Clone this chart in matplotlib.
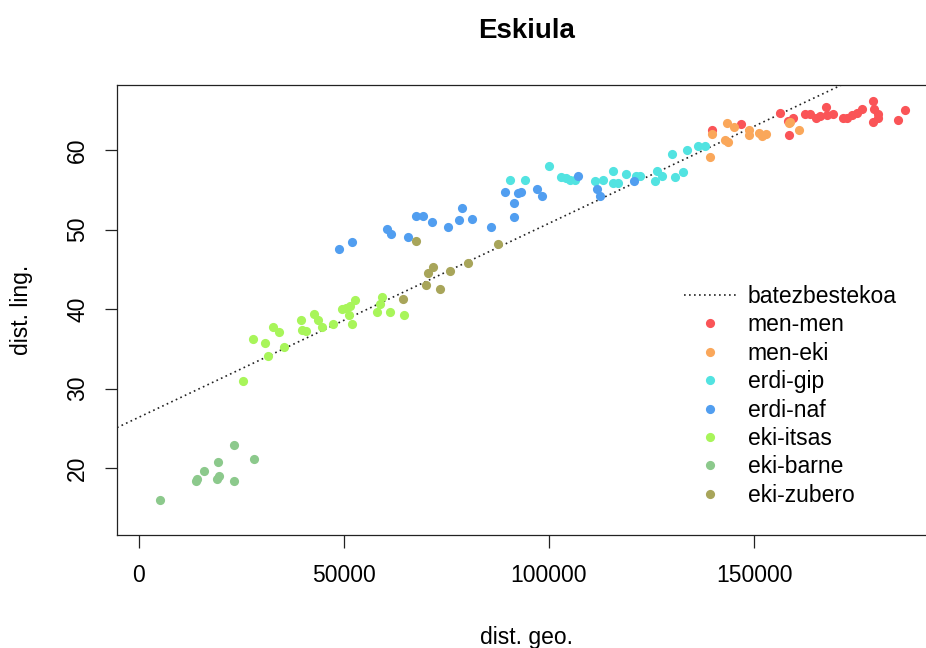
import matplotlib
matplotlib.use("Agg")
import matplotlib.pyplot as plt

plt.rcParams['font.family'] = ['Liberation Sans', 'DejaVu Sans']

# groups (legend order) and colours
groups = ['men-men', 'men-eki', 'erdi-gip', 'erdi-naf', 'eki-itsas', 'eki-barne', 'eki-zubero']
colors = ['#FA5457', '#FAA75A', '#52E3E1', '#519EF0', '#A8F55A', '#8CC98C', '#A8A55A']

# dist. geo. / dist. ling. per group
men_men_x = [139700, 146800, 156300, 158200, 159400, 158400, 162400, 163700, 165100, 166100,
             167600, 167700, 169200, 171600, 172600, 173800, 175000, 176300, 178900, 179300,
             180200, 180300, 178900, 185200, 186800]
men_men_y = [62.6, 63.3, 64.7, 63.7, 64.1, 61.9, 64.6, 64.6, 64.0, 64.3,
             65.4, 64.4, 64.6, 64.0, 64.1, 64.4, 64.7, 65.2, 66.2, 65.2,
             64.6, 64.0, 63.5, 63.8, 65.1]

men_eki_x = [139300, 139700, 142800, 143300, 143600, 145200, 148800, 148800, 151300, 151900,
             152900, 158400, 158800, 161000]
men_eki_y = [59.2, 62.0, 61.3, 63.4, 61.0, 62.9, 62.6, 61.9, 62.1, 61.8,
             62.0, 63.4, 63.6, 62.6]

erdi_gip_x = [90500, 94100, 100000, 102900, 104100, 105100, 106300, 111200, 113100, 115500,
              115700, 116900, 118900, 121200, 122200, 125900, 126300, 127500, 129900, 130700,
              132800, 133600, 136400, 138000]
erdi_gip_y = [56.2, 56.3, 58.0, 56.6, 56.5, 56.3, 56.3, 56.1, 56.3, 57.4,
              55.9, 55.9, 57.0, 56.8, 56.8, 56.1, 57.4, 56.8, 59.5, 56.6,
              57.2, 60.0, 60.5, 60.5]

erdi_naf_x = [48800, 52000, 60600, 61500, 65600, 67600, 69300, 71500, 75500, 78100,
              78800, 81200, 85900, 89400, 91500, 91500, 92400, 93300, 97000, 98400,
              107200, 111600, 112400, 120700]
erdi_naf_y = [47.6, 48.5, 50.1, 49.5, 49.1, 51.7, 51.7, 51.0, 50.3, 51.2,
              52.7, 51.4, 50.4, 54.7, 53.4, 51.6, 54.6, 54.7, 55.1, 54.3,
              56.8, 55.1, 54.2, 56.1]

eki_itsas_x = [25500, 27900, 30900, 31400, 32800, 34100, 35400, 39500, 39700, 40700,
               42800, 43600, 44700, 47400, 49600, 50600, 51500, 52700, 51900, 51200,
               58000, 58800, 59300, 61200, 64700]
eki_itsas_y = [31.0, 36.2, 35.8, 34.1, 37.7, 37.1, 35.3, 38.7, 37.4, 37.2,
               39.4, 38.7, 37.8, 38.1, 40.0, 40.2, 40.4, 41.1, 38.1, 39.3,
               39.6, 40.6, 41.5, 39.7, 39.3]

eki_barne_x = [5100, 13900, 14200, 15900, 19300, 19600, 19100, 23200, 23200, 28000]
eki_barne_y = [16.0, 18.4, 18.6, 19.6, 20.8, 19.0, 18.7, 22.9, 18.4, 21.2]

eki_zubero_x = [64500, 67700, 70000, 70600, 71800, 73400, 75900, 80200, 87500]
eki_zubero_y = [41.3, 48.6, 43.0, 44.6, 45.3, 42.6, 44.8, 45.8, 48.2]

xs = [men_men_x, men_eki_x, erdi_gip_x, erdi_naf_x, eki_itsas_x, eki_barne_x, eki_zubero_x]
ys = [men_men_y, men_eki_y, erdi_gip_y, erdi_naf_y, eki_itsas_y, eki_barne_y, eki_zubero_y]

# mean line (batezbestekoa)
line_intercept = 26.4
line_slope = 0.000244

x_ticks = [0, 50000, 100000, 150000]
y_ticks = [20, 30, 40, 50, 60]

fig = plt.figure(figsize=(9.26, 6.48), dpi=100)
ax = fig.add_axes([117 / 926, 1 - 535 / 648, 820 / 926, 450 / 648])

ax.axline((0, line_intercept), slope=line_slope, color='#222222', linestyle=(0, (1, 2)),
          linewidth=1.2, label='batezbestekoa')
for gx, gy, name, c in zip(xs, ys, groups, colors):
    ax.plot(gx, gy, 'o', color=c, markersize=6.6, markeredgewidth=0, label=name)

ax.set_xlim(-5300, 194600)
ax.set_ylim(11.6, 68.2)
ax.set_xticks(x_ticks)
ax.set_xticklabels([str(t) for t in x_ticks])
ax.set_yticks(y_ticks)
ax.set_yticklabels([str(t) for t in y_ticks], rotation=90, va='center')

for s in ax.spines.values():
    s.set_linewidth(0.9)
    s.set_color('#222222')
ax.tick_params(axis='both', direction='out', length=9, width=0.9, color='#222222',
               labelsize=16.5)
ax.tick_params(axis='x', pad=12)
ax.tick_params(axis='y', pad=11)

ax.set_title('Eskiula', fontsize=20, fontweight='bold', pad=34)
ax.set_xlabel('dist. geo.', fontsize=16.5, va='center')
ax.xaxis.set_label_coords(0.5, -0.2267)
ax.set_ylabel('dist. ling.', fontsize=16.5, va='center')
ax.yaxis.set_label_coords(-0.1159, 0.5)

ax.legend(loc='upper left', bbox_to_anchor=(684 / 926, 1 - 285 / 648),
          bbox_transform=fig.transFigure, frameon=False, fontsize=16.5,
          handlelength=2.3, handletextpad=0.48, labelspacing=0.235, borderpad=0,
          borderaxespad=0)

fig.savefig('out.png', dpi=100)
